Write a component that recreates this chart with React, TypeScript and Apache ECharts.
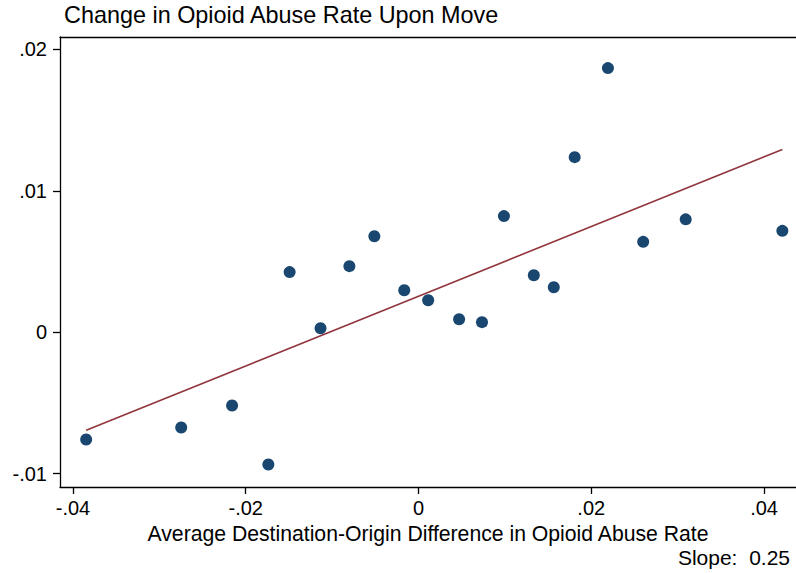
import { useEffect, useRef } from 'react'
import * as echarts from 'echarts'

// binned points (x: destination-origin difference, y: change in rate)
const binX = [
  -0.03847, -0.02747, -0.02158, -0.01738, -0.01492, -0.01134, -0.0080, -0.00511, -0.00165, 0.00112,
  0.0047, 0.00735, 0.00989, 0.01335, 0.01566, 0.01808, 0.02193, 0.02601, 0.03093, 0.04212,
]
const binY = [
  -0.00759, -0.00674, -0.00519, -0.00936, 0.00425, 0.00028, 0.00467, 0.00679, 0.00297, 0.00226,
  0.00092, 0.00071, 0.00821, 0.00403, 0.00318, 0.01238, 0.01868, 0.00639, 0.00798, 0.00717,
]
// fitted line end points
const fitX = [-0.03847, 0.04212]
const fitY = [-0.00694, 0.01293]

const xTicks = [-0.04, -0.02, 0, 0.02, 0.04]
const yTicks = [-0.01, 0, 0.01, 0.02]

const TITLE = 'Change in Opioid Abuse Rate Upon Move'
const X_NAME = 'Average Destination-Origin Difference in Opioid Abuse Rate'
const SLOPE_NOTE = 'Slope:  0.25'

const FONT = 'Arial, "Liberation Sans", sans-serif'
const fmt = (v: number) => (v === 0 ? '0' : String(v).replace('0.', '.'))

export default function App() {
  const ref = useRef<HTMLDivElement>(null)

  useEffect(() => {
    if (!ref.current) return
    const chart = echarts.init(ref.current, undefined, { renderer: 'svg' })

    const axisLine = { show: true, onZero: false, lineStyle: { color: '#000', width: 1.3 } }
    const xRange = { min: -0.0415, max: 0.0437 }

    chart.setOption({
      animation: false,
      backgroundColor: '#fff',
      title: [
        {
          text: TITLE,
          left: 64, top: 3, padding: 0,
          textStyle: { fontFamily: FONT, fontSize: 23.4, fontWeight: 'normal', color: '#000' },
        },
        {
          text: SLOPE_NOTE,
          right: 6, top: 547, padding: 0,
          textStyle: { fontFamily: FONT, fontSize: 21, fontWeight: 'normal', color: '#000' },
        },
      ],
      grid: { left: 60, right: -2, top: 37, bottom: 86 },
      xAxis: [
        {
          type: 'value',
          ...xRange,
          axisLine,
          axisTick: { show: true, length: 7, customValues: xTicks, lineStyle: { color: '#000', width: 1.3 } },
          axisLabel: {
            customValues: xTicks, margin: 11, formatter: fmt,
            fontFamily: FONT, fontSize: 20, color: '#000',
          },
          splitLine: { show: false },
          name: X_NAME,
          nameLocation: 'middle',
          nameGap: 30,
          nameTextStyle: { fontFamily: FONT, fontSize: 21.2, color: '#000' },
        },
        {
          type: 'value',
          position: 'top',
          ...xRange,
          axisLine,
          axisTick: { show: false },
          axisLabel: { show: false },
          splitLine: { show: false },
        },
      ],
      yAxis: {
        type: 'value',
        min: -0.01095,
        max: 0.02088,
        axisLine,
        axisTick: { show: true, length: 7, customValues: yTicks, lineStyle: { color: '#000', width: 1.3 } },
        axisLabel: {
          customValues: yTicks, margin: 13, formatter: fmt,
          fontFamily: FONT, fontSize: 20, color: '#000',
        },
        splitLine: { show: false },
      },
      series: [
        {
          type: 'line',
          data: fitX.map((x, i) => [x, fitY[i]]),
          symbol: 'none',
          lineStyle: { color: '#90353b', width: 1.6 },
          z: 2,
        },
        {
          type: 'scatter',
          data: binX.map((x, i) => [x, binY[i]]),
          symbolSize: 12,
          itemStyle: { color: '#1a476f', opacity: 1 },
          z: 3,
        },
      ],
    })

    return () => chart.dispose()
  }, [])

  return <div ref={ref} style={{ position: 'fixed', left: 0, top: 0, width: 796, height: 573 }} />
}
